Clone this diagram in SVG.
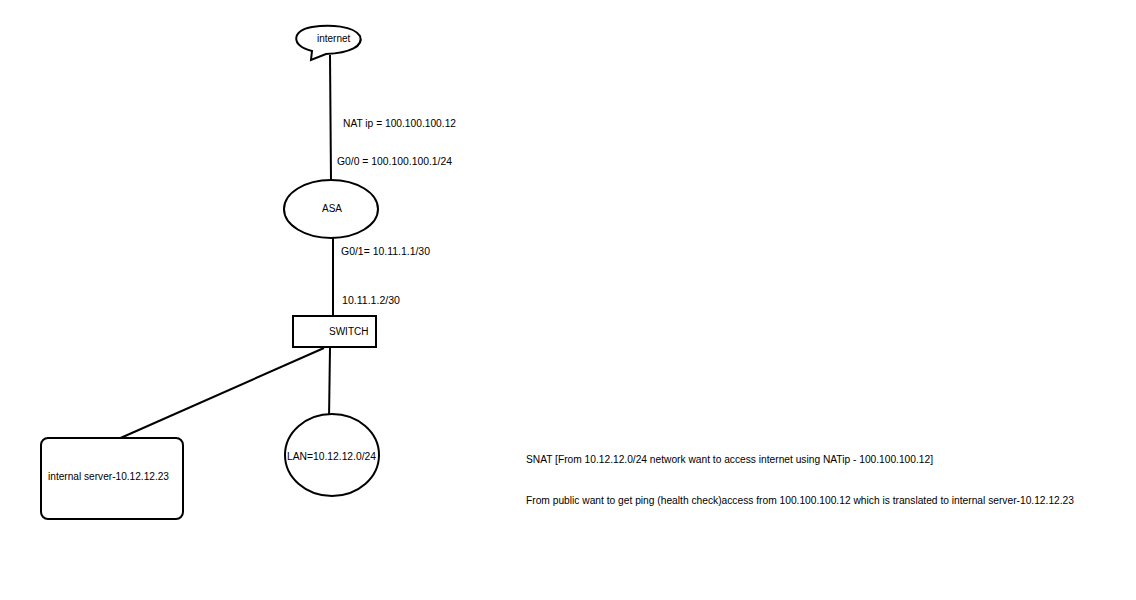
<svg xmlns="http://www.w3.org/2000/svg" width="1136" height="600" viewBox="0 0 1136 600">
<style>
.s{fill:#fff;stroke:#000;stroke-width:2}
.c{stroke:#000;stroke-width:2;fill:none}
text{font-family:"Liberation Sans",Arial,sans-serif;font-size:10px;fill:#000}
</style>
<rect width="1136" height="600" fill="#fff"/>
<g id="connectors">
<line class="c" x1="330" y1="55" x2="331" y2="181"/>
<line class="c" x1="333" y1="238" x2="333" y2="316"/>
<line class="c" x1="324" y1="348" x2="116" y2="440"/>
<line class="c" x1="330" y1="348" x2="329" y2="419"/>
</g>
<g id="internet">
<path class="s" d="M312,51 C290,46 292,30 312,27 C330,24 354,26 360,36 C364,46 350,53 326,54 L311,60 Z"/>
<text x="317" y="42">internet</text>
</g>
<g id="asa">
<ellipse class="s" cx="331" cy="209" rx="47" ry="29"/>
<text x="322" y="212">ASA</text>
</g>
<g id="switch">
<rect class="s" x="293" y="316" width="83" height="31"/>
<text x="329" y="335">SWITCH</text>
</g>
<g id="server">
<rect class="s" x="41" y="438" width="142" height="81" rx="7"/>
<text x="48" y="480" textLength="121" lengthAdjust="spacingAndGlyphs">internal server-10.12.12.23</text>
</g>
<g id="lan">
<ellipse class="s" cx="332" cy="455" rx="47" ry="41"/>
<text x="287" y="460" textLength="89" lengthAdjust="spacingAndGlyphs">LAN=10.12.12.0/24</text>
</g>
<g id="labels">
<text x="343" y="127" textLength="113" lengthAdjust="spacingAndGlyphs">NAT ip = 100.100.100.12</text>
<text x="337" y="165" textLength="115" lengthAdjust="spacingAndGlyphs">G0/0 = 100.100.100.1/24</text>
<text x="341" y="255" textLength="89" lengthAdjust="spacingAndGlyphs">G0/1= 10.11.1.1/30</text>
<text x="342" y="304" textLength="58" lengthAdjust="spacingAndGlyphs">10.11.1.2/30</text>
<text x="526" y="463" textLength="407" lengthAdjust="spacingAndGlyphs">SNAT [From 10.12.12.0/24 network want to access internet using NATip - 100.100.100.12]</text>
<text x="526" y="504" textLength="548" lengthAdjust="spacingAndGlyphs">From public want to get ping (health check)access from 100.100.100.12 which is translated to internal server-10.12.12.23</text>
</g>
</svg>
